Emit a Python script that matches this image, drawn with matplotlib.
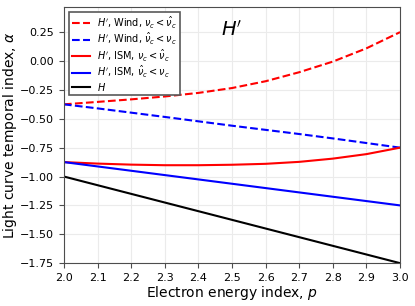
import numpy as np
import matplotlib.pyplot as plt

p = [2.0, 2.1, 2.2, 2.3, 2.4, 2.5, 2.6, 2.7, 2.8, 2.9, 3.0]
wind_low = [-0.375, -0.354, -0.332, -0.307, -0.276, -0.234, -0.175, -0.097, -0.005, 0.11, 0.25]
wind_high = [-0.375, -0.41, -0.447, -0.484, -0.522, -0.56, -0.596, -0.632, -0.67, -0.71, -0.75]
ism_low = [-0.875, -0.888, -0.897, -0.902, -0.902, -0.898, -0.89, -0.873, -0.845, -0.806, -0.75]
ism_high = [-0.875, -0.9125, -0.95, -0.9875, -1.025, -1.0625, -1.1, -1.1375, -1.175, -1.2125, -1.25]
h_std = [-1.0, -1.075, -1.15, -1.225, -1.3, -1.375, -1.45, -1.525, -1.6, -1.675, -1.75]

labels = [r"$H'$, Wind, $\nu_c < \hat{\nu}_c$",
          r"$H'$, Wind, $\hat{\nu}_c < \nu_c$",
          r"$H'$, ISM, $\nu_c < \hat{\nu}_c$",
          r"$H'$, ISM, $\hat{\nu}_c < \nu_c$",
          r"$H$"]

fig = plt.figure(figsize=(4.15, 3.06), dpi=100)
ax = fig.add_axes([0.154, 0.14, 0.81, 0.838])

ax.plot(p, wind_low, 'r--', lw=1.5, label=labels[0])
ax.plot(p, wind_high, 'b--', lw=1.5, label=labels[1])
ax.plot(p, ism_low, 'r-', lw=1.5, label=labels[2])
ax.plot(p, ism_high, 'b-', lw=1.5, label=labels[3])
ax.plot(p, h_std, 'k-', lw=1.5, label=labels[4])

ax.text(2.5, 0.27, r"$H'$", fontsize=14, ha='center', va='center')

ax.set_xlim(2.0, 3.0)
ax.set_ylim(-1.75, 0.47)
ax.set_xticks(np.arange(2.0, 3.01, 0.1))
ax.set_yticks(np.arange(-1.75, 0.26, 0.25))
ax.grid(True, color='0.92', lw=0.8)
ax.tick_params(labelsize=8, color='0.3')
for s in ax.spines.values():
    s.set_color('0.3')
ax.set_xlabel('Electron energy index, $p$', fontsize=10, labelpad=1)
ax.set_ylabel(r'Light curve temporal index, $\alpha$', fontsize=10, labelpad=1)

leg = ax.legend(loc='upper left', fontsize=7, fancybox=False, framealpha=1, edgecolor='0.35',
                handlelength=1.9, borderpad=0.3, labelspacing=0.05, handletextpad=0.7)
leg.get_frame().set_linewidth(1.2)

fig.savefig('out.png', dpi=100)
